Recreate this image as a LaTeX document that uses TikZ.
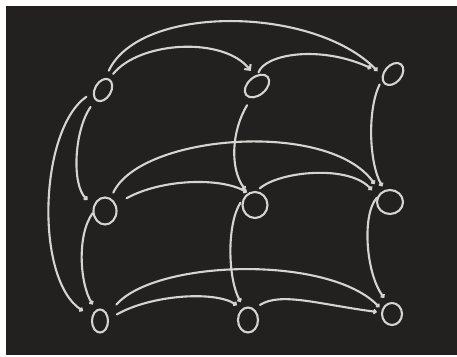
\documentclass[tikz,border=0pt]{standalone}
\usepackage{tikz}
\usetikzlibrary{shapes,arrows.meta}
\definecolor{board}{RGB}{34,33,31}
\definecolor{chalk}{RGB}{214,212,208}
\tikzset{
  vtx/.style={ellipse,draw=chalk,line width=2.1pt,inner sep=0pt},
  edge/.style={draw=chalk,line width=2.1pt,line cap=round,shorten <=4pt,shorten >=4pt},
  arr/.style={-{Straight Barb[length=2pt,width=4pt]}},
  bigarr/.style={-{Straight Barb[length=4pt,width=8pt]}},
}

\begin{document}
\begin{tikzpicture}[x=1pt,y=-1pt]
  \fill[white] (0,0) rectangle (457,356);
  \fill[board] (6,6) rectangle (457,355);
  \foreach \n/\x/\y/\w/\h/\r in {a1/103/90/24/16/60,a2/257/86/28/18/40,a3/393/74/25/17/50,
    b1/105/211/23/27/0,b2/255/205/25/26/0,b3/390/202/26/24/0,
    c1/100/321/16/23/0,c2/248/320/20/25/0,c3/392/314/20/22/0}{%
    \node[vtx,minimum width=\w pt,minimum height=\h pt,rotate=\r] (\n) at (\x,\y) {};
  }
  \draw[edge,bigarr,shorten <=6pt,shorten >=6pt] (a1.1) .. controls +(31,-38) and +(-30,-39) .. (a2.64);
  \draw[edge,arr,shorten <=8pt,shorten >=6pt] (a1.19) .. controls +(35,-74) and +(-68,-70) .. (a3.138);
  \draw[edge,arr,shorten <=2pt,shorten >=12pt] (a2.46) .. controls +(7,-20) and +(-63,-29) .. (a3.127);
  \draw[edge,arr,shorten <=8pt,shorten >=8pt] (a1.173) .. controls +(-21,30) and +(-22,-21) .. (b1.155);
  \draw[edge,arr,shorten <=8pt,shorten >=10pt] (a1.132) .. controls +(-54,38) and +(-57,-37) .. (c1.152);
  \draw[edge,arr,shorten <=0pt,shorten >=6pt] (b1.190) .. controls +(-16,22) and +(-16,-26) .. (c1.110);
  \draw[edge,arr,shorten <=6pt,shorten >=10pt] (b1.66) .. controls +(30,-64) and +(-51,-73) .. (b3.135);
  \draw[edge,arr,shorten <=12pt,shorten >=1pt] (b1.32) .. controls +(45,-25) and +(-28,-16) .. (b2.120);
  \draw[edge,arr,shorten <=4pt,shorten >=8pt] (b2.83) .. controls +(23,-20) and +(-28,-32) .. (b3.156);
  \draw[edge,arr,shorten <=8pt,shorten >=4pt] (a2.205) .. controls +(-20,33) and +(-18,-24) .. (b2.121);
  \draw[edge,arr,shorten <=4pt,shorten >=6pt] (b2.155) .. controls +(-16,25) and +(-16,-29) .. (c2.109);
  \draw[edge,arr,shorten <=5pt,shorten >=4pt] (a3.158) .. controls +(-15,31) and +(-15,-26) .. (b3.115);
  \draw[edge,arr,shorten <=0pt,shorten >=6pt] (b3.163) .. controls +(-15,17) and +(-22,-29) .. (c3.110);
  \draw[edge,arr,shorten <=13pt,shorten >=3pt] (c1.40) .. controls +(48,-55) and +(-53,-55) .. (c3.157);
  \draw[edge,arr,shorten <=9pt,shorten >=6pt] (c1.13) .. controls +(42,-24) and +(-28,-18) .. (c2.117);
  \draw[edge,arr,shorten <=7pt,shorten >=4pt] (c2.62) .. controls +(27,-17) and +(-62,-8) .. (c3.172);
\end{tikzpicture}
\end{document}
